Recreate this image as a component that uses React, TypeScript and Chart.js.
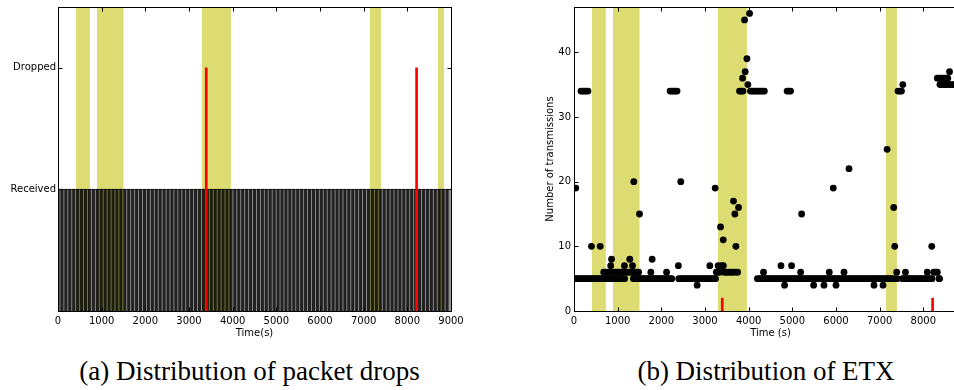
import React, { useEffect, useRef } from "react";
import { Chart, registerables } from "chart.js";

Chart.register(...registerables);

// ---------- data ----------
const TIME_MIN = 0;
const TIME_MAX = 9000;
const TIME_STEP = 1000;

const stateLabels = ["", "Received", "Dropped"]; // value 1 = Received, 2 = Dropped
const STATE_AXIS_MAX = 2.5;

// shaded periods (s)
const bandSpans: [number, number][] = [
  [410, 730],
  [890, 1505],
  [3295, 3960],
  [7145, 7395],
  [8695, 8840],
];
// the ETX panel is cut off before the last period
const etxBandCount = 4;

// packet drop times (s)
const droppedTimes = [3395, 8212];

// packet reception times (s)
const receivedTimes = [
  0, 90, 180, 270, 360, 450, 540, 630, 720, 810,
  900, 990, 1080, 1170, 1260, 1350, 1440, 1530, 1620, 1710,
  1800, 1890, 1980, 2070, 2160, 2250, 2340, 2430, 2520, 2610,
  2700, 2790, 2880, 2970, 3060, 3150, 3240, 3330, 3420, 3510,
  3600, 3690, 3780, 3870, 3960, 4050, 4140, 4230, 4320, 4410,
  4500, 4590, 4680, 4770, 4860, 4950, 5040, 5130, 5220, 5310,
  5400, 5490, 5580, 5670, 5760, 5850, 5940, 6030, 6120, 6210,
  6300, 6390, 6480, 6570, 6660, 6750, 6840, 6930, 7020, 7110,
  7200, 7290, 7380, 7470, 7560, 7650, 7740, 7830, 7920, 8010,
  8100, 8190, 8280, 8370, 8460, 8550, 8640, 8730, 8820, 8910,
];

// ETX: regular samples every 40 s (row = 400 s)
const ETX_SAMPLE_PERIOD = 40;
const etxSamples: (number | null)[] = [
  5, 5, 5, 5, 5, 5, 5, 5, 5, 5, // 0
  5, 5, 5, 5, 5, 5, 5, 5, 5, 5, // 400
  5, 5, 5, 5, 5, 5, 5, 5, 5, 5, // 800
  null, null, null, null, 5, 5, 5, 5, 5, 5, // 1200
  5, 5, 5, 5, 5, 5, 5, 5, 5, 5, // 1600
  5, 5, 5, 5, 5, 5, 5, null, null, null, // 2000
  5, 5, 5, 5, 5, 5, 5, 5, 5, 5, // 2400
  5, 5, 5, 5, 5, 5, 5, 5, 5, 5, // 2800
  5, 5, null, null, null, null, null, null, null, null, // 3200
  null, null, null, null, null, null, null, null, null, null, // 3600
  null, null, null, null, null, 5, 5, 5, 5, 5, // 4000
  5, 5, 5, 5, 5, 5, 5, 5, 5, 5, // 4400
  5, 5, 5, 5, 5, 5, 5, 5, 5, 5, // 4800
  5, 5, 5, 5, 5, 5, 5, 5, 5, 5, // 5200
  5, 5, 5, 5, 5, 5, 5, 5, 5, 5, // 5600
  5, 5, 5, 5, 5, 5, 5, 5, 5, 5, // 6000
  5, 5, 5, 5, 5, 5, 5, 5, 5, 5, // 6400
  5, 5, 5, 5, 5, 5, 5, 5, 5, 5, // 6800
  5, 5, 5, 5, null, 5, null, null, 5, 5, // 7200
  5, 5, 5, 5, 5, 5, 5, 5, 5, 5, // 7600
  5, 5, 5, 5, 5, 5, null, null, null, 5, // 8000
];

// ETX: other measurements [time (s), transmissions]
const etxOutliers: [number, number][] = [
  [40, 19],
  [160, 34], [200, 34], [240, 34], [280, 34], [320, 34],
  [400, 10], [600, 10],
  [680, 6], [720, 6], [760, 6], [800, 6], [840, 7], [860, 8], [880, 6], [920, 6],
  [960, 6], [1000, 6], [1040, 6], [1080, 6], [1120, 6], [1155, 7], [1200, 6],
  [1240, 6], [1277, 8], [1280, 6], [1320, 6], [1340, 7], [1360, 6], [1370, 20],
  [1400, 6], [1440, 6], [1480, 6], [1500, 15],
  [1760, 6], [1790, 8], [2120, 6],
  [2200, 34], [2240, 34], [2280, 34], [2320, 34], [2360, 34], [2390, 7], [2445, 20],
  [2820, 4], [3110, 7],
  [3233, 19], [3260, 6], [3300, 6], [3300, 7], [3340, 6], [3356, 13], [3380, 7],
  [3417, 11], [3420, 7], [3440, 6], [3480, 6], [3520, 6], [3560, 6], [3600, 6],
  [3640, 6], [3653, 17], [3684, 15], [3700, 6], [3707, 10], [3746, 6], [3768, 16],
  [3790, 34], [3830, 34], [3870, 34], [3860, 36], [3906, 45], [3920, 37],
  [3960, 39], [3982, 35], [4020, 46],
  [4040, 34], [4080, 34], [4120, 34], [4160, 34], [4200, 34], [4240, 34],
  [4280, 34], [4320, 34], [4360, 34], [4340, 6],
  [4740, 7], [4823, 4], [4880, 34], [4920, 34], [4960, 34], [4983, 7],
  [5190, 6], [5213, 15], [5488, 4], [5725, 4], [5846, 6], [5938, 19], [6000, 4],
  [6183, 6], [6298, 22], [6870, 4], [7077, 4], [7170, 25],
  [7322, 16], [7345, 10], [7390, 6], [7420, 34], [7460, 34], [7500, 34],
  [7530, 35], [7590, 6],
  [8090, 6], [8193, 10], [8240, 6], [8280, 6], [8320, 6], [8370, 5],
  [8320, 36], [8360, 36], [8400, 36], [8440, 36], [8480, 36], [8520, 36],
  [8560, 36], [8600, 37],
  [8380, 35], [8420, 35], [8460, 35], [8500, 35], [8540, 35], [8580, 35],
  [8620, 35], [8660, 35], [8700, 35],
];

const ETX_AXIS_MAX = 47;
const ETX_TICK_STEP = 10;
const etxDropMarkerHeight = 2;

// ---------- styling ----------
const BAND_COLOR = "rgba(191,191,0,0.55)";
const FONT = "DejaVu Sans";

const framePlugin = {
  id: "frame",
  afterDatasetsDraw(chart: any) {
    const { ctx, chartArea: a, scales } = chart;
    const L = Math.round(a.left) + 0.5;
    const R = Math.round(a.right) + 0.5;
    const T = Math.round(a.top) + 0.5;
    const B = Math.round(a.bottom) + 0.5;
    ctx.save();
    ctx.strokeStyle = "#000";
    ctx.lineWidth = 1;
    ctx.beginPath();
    const tl = 4;
    const xs = scales.x;
    xs.ticks.forEach((t: any) => {
      const p = Math.round(xs.getPixelForValue(t.value)) + 0.5;
      ctx.moveTo(p, B);
      ctx.lineTo(p, B - tl);
      ctx.moveTo(p, T);
      ctx.lineTo(p, T + tl);
    });
    const ys = scales.y;
    ys.ticks.forEach((t: any) => {
      const p = Math.round(ys.getPixelForValue(t.value)) + 0.5;
      ctx.moveTo(L, p);
      ctx.lineTo(L + tl, p);
      ctx.moveTo(R, p);
      ctx.lineTo(R - tl, p);
    });
    ctx.stroke();
    ctx.strokeRect(L, T, R - L, B - T);
    ctx.restore();
  },
};

function bandDatasets(spans: [number, number][], top: number) {
  return spans.map(([s, e]) => ({
    type: "line" as const,
    data: [
      { x: s, y: top },
      { x: e, y: top },
    ],
    fill: "start",
    backgroundColor: BAND_COLOR,
    borderWidth: 0,
    pointRadius: 0,
    order: 10,
  }));
}

function timeAxis(title: string) {
  return {
    type: "linear" as const,
    min: TIME_MIN,
    max: TIME_MAX,
    offset: false,
    grid: { display: false, drawTicks: false },
    border: { display: false },
    ticks: {
      stepSize: TIME_STEP,
      autoSkip: false,
      maxRotation: 0,
      padding: 4,
      color: "#000",
      font: { family: FONT, size: 10 },
      callback: (v: any) => String(v),
    },
    title: {
      display: true,
      text: title,
      color: "#000",
      font: { family: FONT, size: 10 },
      padding: { top: 0, bottom: 6 },
    },
    afterFit: (s: any) => {
      s.height = 34;
      s.paddingLeft = 0;
      s.paddingRight = 0;
    },
  };
}

export default function App() {
  const leftRef = useRef<HTMLCanvasElement>(null);
  const rightRef = useRef<HTMLCanvasElement>(null);

  useEffect(() => {
    const left = new Chart(leftRef.current!, {
      type: "bar",
      data: {
        datasets: [
          ...bandDatasets(bandSpans, STATE_AXIS_MAX),
          {
            type: "line",
            data: [
              { x: TIME_MIN, y: 1 },
              { x: TIME_MAX, y: 1 },
            ],
            fill: "origin",
            backgroundColor: "rgba(0,0,0,0.42)",
            borderColor: "rgba(0,0,0,0.75)",
            borderWidth: 1,
            pointRadius: 0,
            order: 8,
          } as any,
          {
            type: "bar",
            data: receivedTimes.map((t) => ({ x: t, y: 1 })),
            backgroundColor: "rgba(0,0,0,0.78)",
            barThickness: 2.4,
            grouped: false,
            order: 5,
          } as any,
          {
            type: "bar",
            data: droppedTimes.map((t) => ({ x: t, y: 2 })),
            backgroundColor: "#ff0000",
            barThickness: 2,
            grouped: false,
            order: 1,
          } as any,
        ] as any,
      },
      options: {
        animation: false,
        responsive: false,
        events: [],
        layout: { padding: { left: 0, right: 19, top: 7, bottom: 0 } },
        plugins: { legend: { display: false }, tooltip: { enabled: false } },
        scales: {
          x: timeAxis("Time(s)") as any,
          y: {
            type: "linear",
            min: 0,
            max: STATE_AXIS_MAX,
            grid: { display: false, drawTicks: false },
            border: { display: false },
            afterBuildTicks: (s: any) => {
              s.ticks = [{ value: 1 }, { value: 2 }];
            },
            ticks: {
              padding: 2,
              color: "#000",
              font: { family: FONT, size: 10 },
              callback: (v: any) => stateLabels[v] ?? "",
            },
            afterFit: (s: any) => {
              s.width = 58;
              s.paddingTop = 0;
              s.paddingBottom = 0;
            },
          } as any,
        },
      },
      plugins: [framePlugin],
    });

    const etxPoints = [
      ...etxSamples
        .map((v, i) => (v == null ? null : { x: i * ETX_SAMPLE_PERIOD, y: v }))
        .filter((p) => p !== null),
      ...etxOutliers.map(([t, v]) => ({ x: t, y: v })),
    ];

    const right = new Chart(rightRef.current!, {
      type: "scatter",
      data: {
        datasets: [
          ...bandDatasets(bandSpans.slice(0, etxBandCount), ETX_AXIS_MAX),
          {
            type: "scatter",
            data: etxPoints,
            backgroundColor: "#000",
            borderWidth: 0,
            pointRadius: 3.4,
            order: 5,
          } as any,
          {
            type: "bar",
            data: droppedTimes.map((t) => ({ x: t, y: etxDropMarkerHeight })),
            backgroundColor: "#ff0000",
            barThickness: 2,
            grouped: false,
            order: 1,
          } as any,
        ] as any,
      },
      options: {
        animation: false,
        responsive: false,
        events: [],
        layout: { padding: { left: 0, right: 13, top: 7, bottom: 0 } },
        plugins: { legend: { display: false }, tooltip: { enabled: false } },
        scales: {
          x: timeAxis("Time (s)") as any,
          y: {
            type: "linear",
            min: 0,
            max: ETX_AXIS_MAX,
            grid: { display: false, drawTicks: false },
            border: { display: false },
            ticks: {
              stepSize: ETX_TICK_STEP,
              includeBounds: false,
              padding: 3,
              color: "#000",
              font: { family: FONT, size: 10 },
            },
            title: {
              display: true,
              text: "Number of transmissions",
              color: "#000",
              font: { family: FONT, size: 10 },
              padding: { top: 64, bottom: 0 },
            },
            afterFit: (s: any) => {
              s.width = 94;
              s.paddingTop = 0;
              s.paddingBottom = 0;
            },
          } as any,
        },
      },
      plugins: [framePlugin],
    });

    return () => {
      left.destroy();
      right.destroy();
    };
  }, []);

  const captionStyle: React.CSSProperties = {
    position: "absolute",
    top: 356,
    height: 30,
    lineHeight: "30px",
    textAlign: "center",
    fontFamily: "'Liberation Serif', serif",
    fontSize: 27,
    color: "#000",
    whiteSpace: "nowrap",
  };

  return (
    <div
      style={{
        position: "fixed",
        left: 0,
        top: 0,
        width: 954,
        height: 390,
        overflow: "hidden",
        background: "#fff",
      }}
    >
      <div style={{ position: "absolute", left: 0, top: 0 }}>
        <canvas ref={leftRef} width={470} height={345} />
      </div>
      <div style={{ position: "absolute", left: 480, top: 0 }}>
        <canvas ref={rightRef} width={500} height={345} />
      </div>
      <div style={{ ...captionStyle, left: 0, width: 499 }}>
        (a) Distribution of packet drops
      </div>
      <div style={{ ...captionStyle, left: 566, width: 400 }}>
        (b) Distribution of ETX
      </div>
    </div>
  );
}
